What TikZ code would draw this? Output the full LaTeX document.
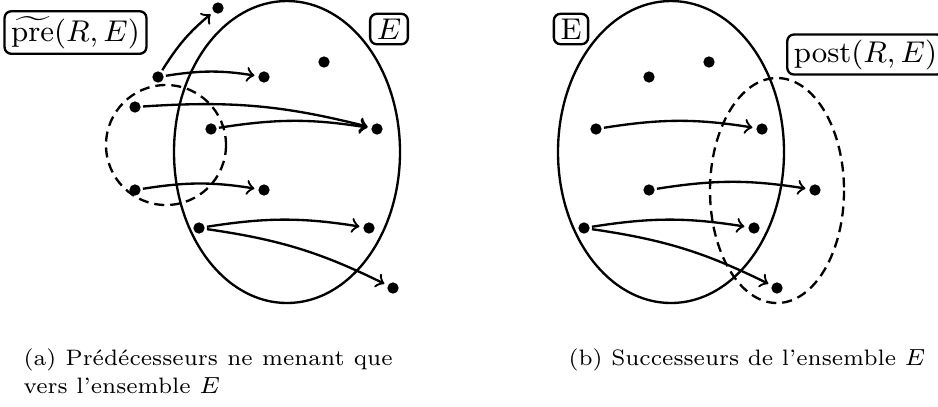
\documentclass[tikz,border=0pt]{standalone}
\begin{document}
\begin{tikzpicture}[x=0.3pt,y=-0.3pt,
  dot/.style={circle,fill,inner sep=0pt,minimum size=3.4pt,outer sep=0.7pt},
  arr/.style={->,line width=0.7pt,shorten >=0.5pt,bend left=9},
  setline/.style={line width=0.7pt},
  dashset/.style={line width=0.7pt,dash pattern=on 3pt off 1.8pt},
  lab/.style={draw,line width=0.7pt,rounded corners=2pt,inner xsep=2pt,inner ysep=1.5pt,font={\fontsize{9}{11}\selectfont}},
  capt/.style={font={\fontsize{6.7}{8.4}\selectfont},inner sep=0pt,anchor=base west}]
\useasboundingbox (0,0) rectangle (938,406);
% ---------- left figure ----------
\draw[setline] (287,152) ellipse [x radius=113, y radius=151];
\draw[dashset] (166,145) circle [radius=60];
\node[lab] (pre) at (75.5,32.5) {$\widetilde{\mathrm{pre}}(R,E)$};
\node[lab] (labE) at (389,29) {$E$};
\node[dot] (a0) at (218,8) {};
\node[dot] (a1) at (158,77) {};
\node[dot] (a2) at (264,77) {};
\node[dot] (a3) at (324,62) {};
\node[dot] (a4) at (135,107) {};
\node[dot] (a5) at (211,129) {};
\node[dot] (a6) at (377,129) {};
\node[dot] (a7) at (135,190) {};
\node[dot] (a8) at (264,190) {};
\node[dot] (a9) at (199,228) {};
\node[dot] (a10) at (369,228) {};
\node[dot] (a11) at (393,288) {};
\draw[arr] (a1) to (a0);
\draw[arr] (a1) to (a2);
\draw[arr] (a4) to (a6);
\draw[arr] (a5) to (a6);
\draw[arr] (a7) to (a8);
\draw[arr] (a9) to (a10);
\draw[arr] (a9) to (a11);
\node[capt,text width=110.7pt,align=justify] (capa) at (23,365)
  {\hyphenpenalty=10000\relax(a) Prédécesseurs ne menant que vers l'ensemble $E$};
% ---------- right figure ----------
\draw[setline] (671,152) ellipse [x radius=113, y radius=151];
\draw[dashset] (777,190.5) ellipse [x radius=67, y radius=112.5];
\node[lab] (labE2) at (571,29) {E};
\node[lab] (post) at (865.5,54.5) {$\mathrm{post}(R,E)$};
\node[dot] (b1) at (649,77) {};
\node[dot] (b2) at (709,62) {};
\node[dot] (b3) at (596,129) {};
\node[dot] (b4) at (762,129) {};
\node[dot] (b5) at (649,190) {};
\node[dot] (b6) at (815,190) {};
\node[dot] (b7) at (584,228) {};
\node[dot] (b8) at (754,228) {};
\node[dot] (b9) at (777,288) {};
\draw[arr] (b3) to (b4);
\draw[arr] (b5) to (b6);
\draw[arr] (b7) to (b8);
\draw[arr] (b7) to (b9);
\node[capt] (capb) at (568,365) {(b) Successeurs de l'ensemble $E$};
\end{tikzpicture}
\end{document}
